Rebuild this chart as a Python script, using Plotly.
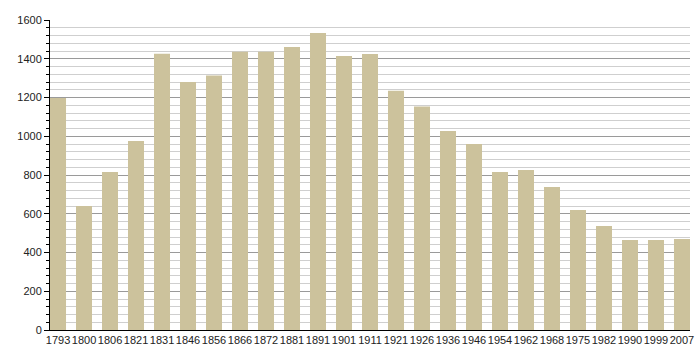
import plotly.graph_objects as go

years = ["1793", "1800", "1806", "1821", "1831", "1846", "1856", "1866", "1872", "1881",
         "1891", "1901", "1911", "1921", "1926", "1936", "1946", "1954", "1962", "1968",
         "1975", "1982", "1990", "1999", "2007"]
population = [1198, 640, 816, 976, 1426, 1280, 1313, 1436, 1436, 1461,
              1533, 1414, 1425, 1235, 1153, 1027, 960, 815, 826, 738,
              619, 537, 465, 465, 470]

bar_color = "rgb(204,194,156)"
bargap = 0.384
half = (1 - bargap) / 2

fig = go.Figure(go.Bar(x=years, y=population, marker=dict(color=bar_color, line=dict(width=0)),
                       hoverinfo="x+y"))

fig.update_layout(
    width=700, height=360,
    margin=dict(l=50, r=10, t=20, b=30),
    paper_bgcolor="white", plot_bgcolor="white",
    bargap=bargap,
    showlegend=False,
    font=dict(family="Liberation Sans, Arial, sans-serif", size=11, color="#222"),
    xaxis=dict(
        type="category",
        range=[-half, len(years) - 1 + half],
        showline=True, linecolor="black", linewidth=1,
        ticks="", showgrid=False, zeroline=False,
        tickangle=0, automargin=False,
        tickfont=dict(size=11),
        fixedrange=True,
    ),
    yaxis=dict(
        range=[0, 1600],
        dtick=200,
        showline=True, linecolor="black", linewidth=1,
        ticks="outside", ticklen=5, tickcolor="black", tickwidth=1,
        showgrid=True, gridcolor="#9a9a9a", gridwidth=1,
        zeroline=False, automargin=False,
        minor=dict(dtick=40, showgrid=True, gridcolor="#cfcfcf", gridwidth=1,
                   ticks="outside", ticklen=3, tickcolor="black"),
        tickfont=dict(size=11),
        fixedrange=True,
    ),
)

fig.write_html("out.html", config={"displayModeBar": False},
               post_script="document.body.style.margin='0';document.body.style.overflow='hidden';")
